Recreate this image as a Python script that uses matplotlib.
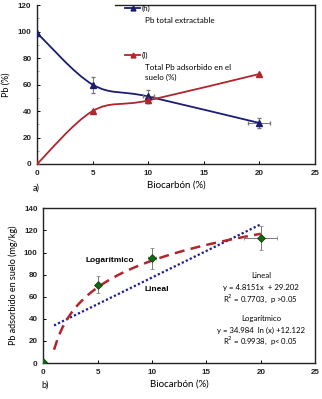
import numpy as np
import matplotlib
matplotlib.use("Agg")
import matplotlib.pyplot as plt
from matplotlib.path import Path
from matplotlib.patches import PathPatch
from matplotlib.ticker import MultipleLocator

# panel a
biochar = [0, 5, 10, 20]
pb_extract = [99, 60, 51, 31]
pb_extract_yerr = [0, 6, 5, 3.5]
pb_extract_xerr = [0, 0, 0.5, 1]
pb_ads = [0, 40, 48, 68]
pb_ads_yerr = [0, 0, 2, 0]

# panel b
ads_mgkg = [1, 71, 95, 113]
ads_yerr = [0, 7.5, 9.5, 11]
ads_xerr = [0, 0, 0.4, 1.5]
lin_a, lin_b = 4.8151, 29.202
log_a, log_b = 34.984, 12.122

blue = "#1c1c72"
red = "#b0262c"
green = "#0d6a10"
lab_font = "Lato"


def smooth_path(xs, ys):
    # excel-like smoothed line (catmull-rom as bezier)
    pts = list(zip(xs, ys))
    verts = [pts[0]]
    codes = [Path.MOVETO]
    for i in range(len(pts) - 1):
        p0 = pts[i - 1] if i > 0 else pts[i]
        p1 = pts[i]
        p2 = pts[i + 1]
        p3 = pts[i + 2] if i + 2 < len(pts) else pts[i + 1]
        c1 = (p1[0] + (p2[0] - p0[0]) / 6, p1[1] + (p2[1] - p0[1]) / 6)
        c2 = (p2[0] - (p3[0] - p1[0]) / 6, p2[1] - (p3[1] - p1[1]) / 6)
        verts += [c1, c2, p2]
        codes += [Path.CURVE4] * 3
    return Path(verts, codes)


def style_ax(ax, ymax, ystep):
    ax.set_xlim(0, 25)
    ax.set_ylim(0, ymax)
    ax.xaxis.set_major_locator(MultipleLocator(5))
    ax.yaxis.set_major_locator(MultipleLocator(ystep))
    ax.tick_params(direction="in", length=2.5, width=0.7, labelsize=5.8, pad=4)
    for lab in ax.get_xticklabels() + ax.get_yticklabels():
        lab.set_fontweight("bold")
        lab.set_family("Liberation Sans")
        lab.set_color("#222222")
    for s in ax.spines.values():
        s.set_linewidth(1.0)
        s.set_color("#222222")


fig = plt.figure(figsize=(3.22, 3.99), dpi=100)

# ---- a)
ax1 = fig.add_axes([0.115, 0.589, 0.863, 0.398])
style_ax(ax1, 120, 20)
ax1.yaxis.set_minor_locator(MultipleLocator(10))
ax1.tick_params(which="minor", direction="in", length=1.5, width=0.5, color="#888888")
ax1.spines["top"].set_bounds(7.0, 25)

ax1.add_patch(PathPatch(smooth_path(biochar, pb_extract), fc="none", ec=blue, lw=1.3, zorder=3))
ax1.add_patch(PathPatch(smooth_path(biochar, pb_ads), fc="none", ec=red, lw=1.3, zorder=3))
ax1.errorbar(biochar, pb_extract, yerr=pb_extract_yerr, xerr=pb_extract_xerr, fmt="^", ms=4.5,
             color=blue, ecolor="#777777", elinewidth=0.7, capsize=1.5, zorder=4)
ax1.errorbar(biochar, pb_ads, yerr=pb_ads_yerr, fmt="^", ms=4.5, color=red,
             ecolor="#777777", elinewidth=0.7, capsize=1.5, zorder=4)

# legend-like labels
ax1.plot([0.317, 0.37], [0.98, 0.98], color=blue, lw=1.3, transform=ax1.transAxes, clip_on=False)
ax1.plot([0.344], [0.98], "^", color=blue, ms=3.5, transform=ax1.transAxes, clip_on=False)
ax1.text(0.378, 0.98, "(h)", transform=ax1.transAxes, fontsize=5.8, family=lab_font, va="center")
ax1.text(0.39, 0.905, "Pb total extractable", transform=ax1.transAxes, fontsize=5.8,
         family=lab_font, va="center")
ax1.plot([0.317, 0.37], [0.685, 0.685], color=red, lw=1.3, transform=ax1.transAxes)
ax1.plot([0.344], [0.685], "^", color=red, ms=3.5, transform=ax1.transAxes)
ax1.text(0.378, 0.685, "(I)", transform=ax1.transAxes, fontsize=5.8, family=lab_font, va="center")
ax1.text(0.39, 0.61, "Total Pb adsorbido en el", transform=ax1.transAxes, fontsize=5.8,
         family=lab_font, va="center")
ax1.text(0.39, 0.545, "suelo (%)", transform=ax1.transAxes, fontsize=5.8,
         family=lab_font, va="center")

ax1.set_ylabel("Pb (%)", fontsize=6.5, family=lab_font, labelpad=5)
ax1.set_xlabel("Biocarbón (%)", fontsize=7, family=lab_font, labelpad=3)
fig.text(0.1, 0.528, "a)", fontsize=6.5, family=lab_font, va="center")

# ---- b)
ax2 = fig.add_axes([0.134, 0.090, 0.845, 0.388])
style_ax(ax2, 140, 20)

xl = np.linspace(1, 20, 50)
ax2.plot(xl, lin_a * xl + lin_b, ls=(0, (1, 1)), color="#1c1c9a", lw=1.6, zorder=2)
ax2.plot(xl, log_a * np.log(xl) + log_b, ls=(0, (4, 2.5)), color=red, lw=1.8, zorder=2)
ax2.errorbar(biochar, ads_mgkg, yerr=ads_yerr, xerr=ads_xerr, fmt="D", ms=4.5, color=green,
             mec="#0a3d0a", mew=0.5, ecolor="#777777", elinewidth=0.7, capsize=1.5, zorder=4)

ax2.text(6.1, 93, "Logarítmico", fontsize=6, fontweight="bold", ha="center", va="center",
         family="Liberation Sans")
ax2.text(10.4, 67, "Lineal", fontsize=6, fontweight="bold", ha="center", va="center",
         family="Liberation Sans")
rtxt = [("Lineal", 79), ("y = 4.8151x  + 29.202", 68), ("R$^2$ = 0.7703,  p >0.05", 58),
        ("Logarítmico", 40), ("y = 34.984  ln (x) +12.122", 30), ("R$^2$ = 0.9938,  p< 0.05", 20)]
for s, yy in rtxt:
    ax2.text(20.0, yy, s, fontsize=5.6, ha="center", va="center", family=lab_font)

ax2.set_ylabel("Pb adsorbido en suelo (mg/kg)", fontsize=6.5, family=lab_font, labelpad=4)
ax2.set_xlabel("Biocarbón (%)", fontsize=7, family=lab_font, labelpad=3)
fig.text(0.13, 0.035, "b)", fontsize=6.5, family=lab_font, va="center")

fig.savefig("out.png", dpi=100)
